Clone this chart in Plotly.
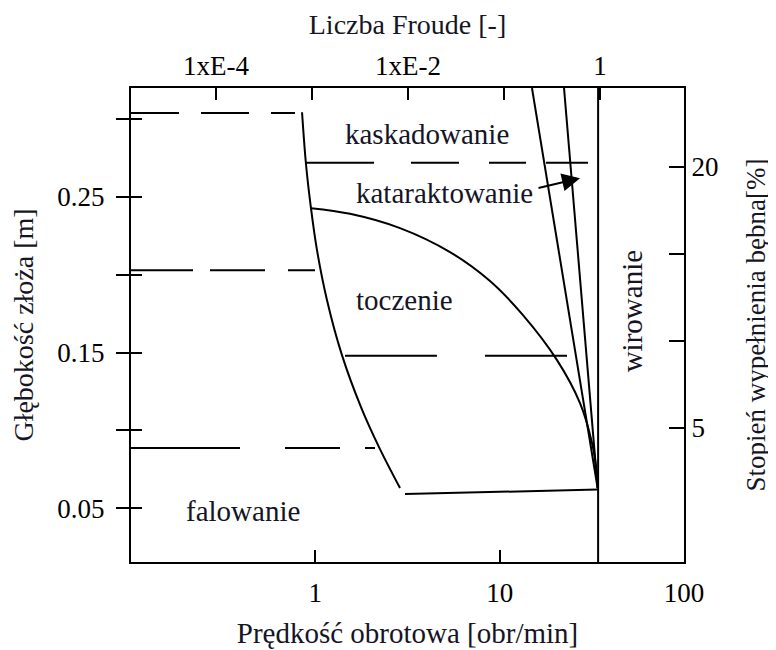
import numpy as np
import plotly.graph_objects as go

# ---------------- data (bottom axis: speed [obr/min], left axis: depth [m]) -------------
# left boundary of the kaskadowanie / toczenie regions
loose_n = [0.847, 0.890, 0.947, 1.021, 1.157, 1.395, 1.769, 2.215, 2.880]
loose_d = [0.3044, 0.2710, 0.2428, 0.2158, 0.1837, 0.1484, 0.1150, 0.0893, 0.0630]

# upper/right boundary of the toczenie region
rolling_n = [0.947, 1.542, 2.880, 5.378, 8.862, 13.38, 20.47, 27.28, 31.70, 33.73, 34.0]
rolling_d = [0.2428, 0.2392, 0.2300, 0.2146, 0.1960, 0.1741, 0.1452, 0.1176, 0.0919, 0.0714, 0.0630]

# bottom solid boundary
slump_n = [3.065, 34.0]
slump_d = [0.0592, 0.062]

# sloping boundaries near the critical speed
cascade_n = [14.97, 34.0]
cascade_d = [0.32, 0.063]
cataract_n = [22.34, 34.0]
cataract_d = [0.32, 0.063]

# critical speed (Fr = 1) vertical boundary
critical_n = [34.2, 34.2]
critical_d = [0.0155, 0.32]

# dashed iso-lines
dash_level = [0.304, 0.272, 0.203, 0.148, 0.0887]
dash_start = [0.1, 0.890, 0.1, 1.448, 0.1]
dash_end = [0.776, 30.15, 0.996, 23.19, 2.107]

# arrow (kataraktowanie)
arrow_tail = (15.94, 0.2556)
arrow_head = (27.28, 0.262)

# region labels: (text, speed, depth)
region_text = ["kaskadowanie", "kataraktowanie", "toczenie", "falowanie"]
region_n = [4.035, 5.05, 3.03, 0.405]
region_d = [0.2905, 0.2525, 0.1837, 0.0483]
spin_text = "wirowanie"
spin_n, spin_d = 52.3, 0.1766

# axes
x_ticks = [1, 10, 100]
x_ticktext = ["1", "10", "100"]
fr_ticks = [1e-4, 1e-3, 1e-2, 1e-1, 1]
fr_ticktext = ["1xE-4", "", "1xE-2", "", "1"]
d_ticks = [0.05, 0.10, 0.15, 0.20, 0.25, 0.30]
d_ticktext = ["0.05", "", "0.15", "", "0.25", ""]
fill_ticks = [5, 10, 15, 20]
fill_ticktext = ["5", "", "", "20"]

# ---------------- styles ----------------
FONT = "Liberation Serif, Times New Roman, Times, serif"
INK = "#000000"
TXT = "#151525"
LW = 2
dash_styles = ["48px,22px", "68px,37px,48px,30px,37px,20px,60px,20px",
               "62px,17px,55px,23px,40px,20px", "92px,48px,90px,20px",
               "109px,45px,55px,25px,20px,20px"]

fig = go.Figure()

def solid(xs, ys, shape="linear"):
    fig.add_trace(go.Scatter(x=xs, y=ys, mode="lines",
                             line=dict(color=INK, width=LW, shape=shape),
                             showlegend=False, hoverinfo="skip"))

solid(loose_n, loose_d, "spline")
solid(rolling_n, rolling_d, "spline")
solid(slump_n, slump_d)
solid(cascade_n, cascade_d)
solid(cataract_n, cataract_d)
solid(critical_n, critical_d)

for lev, a, b, ds in zip(dash_level, dash_start, dash_end, dash_styles):
    fig.add_trace(go.Scatter(x=[a, b], y=[lev, lev], mode="lines",
                             line=dict(color=INK, width=LW, dash=ds),
                             showlegend=False, hoverinfo="skip"))

# empty traces to anchor the secondary axes
fig.add_trace(go.Scatter(x=[], y=[], xaxis="x2", yaxis="y2", showlegend=False))
fig.add_trace(go.Scatter(x=[], y=[], xaxis="x", yaxis="y3", showlegend=False))

for t, n, d in zip(region_text, region_n, region_d):
    fig.add_annotation(x=np.log10(n), y=d, xref="x", yref="y", text=t,
                       showarrow=False, font=dict(family=FONT, size=29, color=TXT))
fig.add_annotation(x=np.log10(spin_n), y=spin_d, xref="x", yref="y", text=spin_text,
                   textangle=-90, showarrow=False,
                   font=dict(family=FONT, size=29, color=TXT))

fig.add_annotation(x=np.log10(arrow_head[0]), y=arrow_head[1],
                   ax=np.log10(arrow_tail[0]), ay=arrow_tail[1],
                   xref="x", yref="y", axref="x", ayref="y", text="",
                   showarrow=True, arrowhead=2, arrowsize=1.8, arrowwidth=2,
                   arrowcolor=INK)

tickfont = dict(family=FONT, size=27, color=INK)

def tfont(size):
    return dict(family=FONT, size=size, color=TXT)

# page body has an 8px margin -> figure is 8px smaller than the window
fig.update_layout(
    width=768, height=642,
    margin=dict(l=123, r=92, t=80, b=88, autoexpand=False),
    font=dict(family=FONT),
    paper_bgcolor="white", plot_bgcolor="white",
    xaxis=dict(type="log", range=[-1, 2], tickvals=x_ticks, ticktext=x_ticktext,
               ticks="inside", ticklen=12, tickwidth=2, tickcolor=INK,
               showline=True, linewidth=2, linecolor=INK, automargin=False,
               showgrid=False, zeroline=False, tickfont=tickfont,
               ticklabelstandoff=6,
               title=dict(text="Prędkość obrotowa [obr/min]", font=tfont(29), standoff=15)),
    xaxis2=dict(type="log", range=[-4.885, 0.875], overlaying="x", side="top",
                tickvals=fr_ticks, ticktext=fr_ticktext,
                ticks="inside", ticklen=12, tickwidth=2, tickcolor=INK,
                showline=True, linewidth=2, linecolor=INK, automargin=False,
                showgrid=False, zeroline=False, tickfont=tickfont,
                title=dict(text="Liczba Froude [-]", font=tfont(28), standoff=8)),
    yaxis=dict(range=[0.0155, 0.32], tickvals=d_ticks, ticktext=d_ticktext,
               ticks="outside", ticklen=13, tickwidth=2, tickcolor=INK,
               showline=True, linewidth=2, linecolor=INK, automargin=False,
               showgrid=False, zeroline=False, tickfont=tickfont,
               ticklabelstandoff=6,
               title=dict(text="Głębokość złoża [m]", font=tfont(28), standoff=18)),
    yaxis3=dict(range=[0.0155, 0.32], overlaying="y", side="left",
                tickvals=d_ticks, ticks="inside", ticklen=11, tickwidth=2,
                tickcolor=INK, showticklabels=False, showline=False, automargin=False,
                showgrid=False, zeroline=False),
    yaxis2=dict(range=[-2.70, 24.54], overlaying="y", side="right",
                tickvals=fill_ticks, ticktext=fill_ticktext,
                ticks="inside", ticklen=15, tickwidth=2, tickcolor=INK,
                showline=True, linewidth=2, linecolor=INK, automargin=False,
                showgrid=False, zeroline=False, tickfont=tickfont,
                title=dict(text="Stopień wypełnienia bębna[%]", font=tfont(27), standoff=29)),
)

fig.write_html("out.html")
